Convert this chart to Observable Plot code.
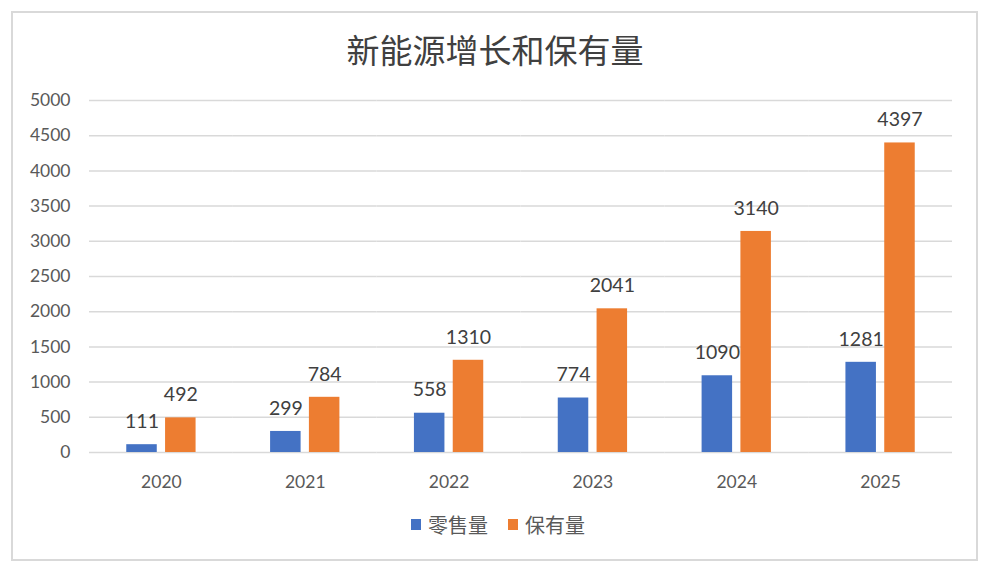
<!DOCTYPE html>
<html>
<head>
<meta charset="utf-8">
<script src="https://cdn.jsdelivr.net/npm/d3@7"></script>
<script src="https://cdn.jsdelivr.net/npm/@observablehq/plot@0.6"></script>
<style>
  html, body { margin: 0; padding: 0; background: #fff; }
  #page { position: relative; width: 985px; height: 573px; overflow: hidden; background: #fff; }
  #frame { position: absolute; left: 11px; top: 11px; width: 967px; height: 550px;
           box-sizing: border-box; border: 2px solid #d9d9d9; }
  #title { position: absolute; left: 0; top: 26px; width: 990px; text-align: center;
           font-family: "Noto Sans CJK SC", sans-serif; font-size: 33px; line-height: 46px;
           color: #404040; }
  #chart { position: absolute; left: 0; top: 80px; }
  .legend-item { position: absolute; top: 512px; height: 24px; display: flex; align-items: center;
                 font-family: "Noto Sans CJK SC", sans-serif; font-size: 20px; color: #595959; }
  .swatch { width: 10px; height: 11px; margin-right: 7px; }
</style>
</head>
<body>
<div id="page">
  <div id="frame"></div>
  <div id="title">新能源增长和保有量</div>
  <div id="chart"></div>
  <div class="legend-item" style="left:411px"><span class="swatch" style="background:#4472C4"></span>零售量</div>
  <div class="legend-item" style="left:508px"><span class="swatch" style="background:#ED7D31"></span>保有量</div>
</div>
<script>
// Years on the category axis
const years = ["2020", "2021", "2022", "2023", "2024", "2025"];
// Series names
const seriesNames = ["零售量", "保有量"];
// Retail volume per year
const retail = [111, 299, 558, 774, 1090, 1281];
// Fleet size per year
const stock = [492, 784, 1310, 2041, 3140, 4397];
// Value axis ticks
const yTicks = [0, 500, 1000, 1500, 2000, 2500, 3000, 3500, 4000, 4500, 5000];

const colors = ["#4472C4", "#ED7D31"];

const rows = [];
years.forEach((y, i) => {
  rows.push({year: y, series: seriesNames[0], value: retail[i]});
  rows.push({year: y, series: seriesNames[1], value: stock[i]});
});

const chart = Plot.plot({
  width: 985,
  height: 420,
  marginTop: 20,
  marginBottom: 48,
  marginLeft: 89,
  marginRight: 33,
  style: {fontFamily: "Lato, sans-serif", fontSize: "17.5px", color: "#595959", background: "transparent"},
  fx: {domain: years, padding: 0, round: false, axis: "bottom", tickSize: 0, tickPadding: 23, label: null},
  x: {domain: seriesNames, axis: null, round: false, paddingInner: 0.214, paddingOuter: 0.96},
  y: {domain: [0, 5000], ticks: yTicks, tickSize: 0, tickPadding: 19, label: null, tickFormat: d => String(d)},
  color: {domain: seriesNames, range: colors},
  marks: [
    Plot.gridY(yTicks, {stroke: "#d9d9d9", strokeOpacity: 1, strokeWidth: 1.5}),
    Plot.barY(rows, {fx: "year", x: "series", y: "value", fill: "series"}),
    Plot.text(rows, {fx: "year", x: "series", y: "value", text: d => String(d.value),
                     dy: -23, fill: "#404040", fontSize: 19.5, fontFamily: "Lato, sans-serif"})
  ]
});
document.getElementById("chart").appendChild(chart);
</script>
</body>
</html>
